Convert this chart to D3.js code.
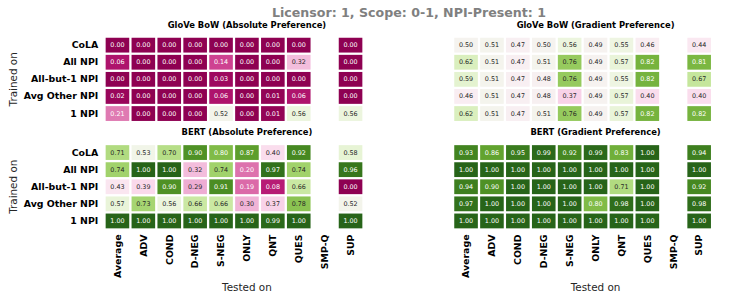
<!DOCTYPE html>
<html>
<head>
<meta charset="utf-8">
<script src="https://cdn.jsdelivr.net/npm/d3@7"></script>
<style>
    body { margin: 0; background: #fff; }
    text { font-family: "DejaVu Sans", sans-serif; }
</style>
</head>
<body>
<div id="graph"></div>
<script>
'use strict';

const suptitle = 'Licensor: 1, Scope: 0-1, NPI-Present: 1';
const trainedOn = ['CoLA', 'All NPI', 'All-but-1 NPI', 'Avg Other NPI', '1 NPI'];
const testedOn = ['Average', 'ADV', 'COND', 'D-NEG', 'S-NEG', 'ONLY', 'QNT', 'QUES', 'SMP-Q', 'SUP'];

// null = no value (SMP-Q is empty)
const gloveAbs = [
    [0.00, 0.00, 0.00, 0.00, 0.00, 0.00, 0.00, 0.00, null, 0.00],
    [0.06, 0.00, 0.00, 0.00, 0.14, 0.00, 0.00, 0.32, null, 0.00],
    [0.00, 0.00, 0.00, 0.00, 0.03, 0.00, 0.00, 0.00, null, 0.00],
    [0.02, 0.00, 0.00, 0.00, 0.06, 0.00, 0.01, 0.06, null, 0.00],
    [0.21, 0.00, 0.00, 0.00, 0.52, 0.00, 0.01, 0.56, null, 0.56]
];
const gloveGrad = [
    [0.50, 0.51, 0.47, 0.50, 0.56, 0.49, 0.55, 0.46, null, 0.44],
    [0.62, 0.51, 0.47, 0.51, 0.76, 0.49, 0.57, 0.82, null, 0.81],
    [0.59, 0.51, 0.47, 0.48, 0.76, 0.49, 0.55, 0.82, null, 0.67],
    [0.46, 0.51, 0.47, 0.48, 0.37, 0.49, 0.57, 0.40, null, 0.40],
    [0.62, 0.51, 0.47, 0.51, 0.76, 0.49, 0.57, 0.82, null, 0.82]
];
const bertAbs = [
    [0.71, 0.53, 0.70, 0.90, 0.80, 0.87, 0.40, 0.92, null, 0.58],
    [0.74, 1.00, 1.00, 0.32, 0.74, 0.20, 0.97, 0.74, null, 0.96],
    [0.43, 0.39, 0.90, 0.29, 0.91, 0.19, 0.08, 0.66, null, 0.00],
    [0.57, 0.73, 0.56, 0.66, 0.66, 0.30, 0.37, 0.78, null, 0.52],
    [1.00, 1.00, 1.00, 1.00, 1.00, 1.00, 0.99, 1.00, null, 1.00]
];
const bertGrad = [
    [0.93, 0.86, 0.95, 0.99, 0.92, 0.99, 0.83, 1.00, null, 0.94],
    [1.00, 1.00, 1.00, 1.00, 1.00, 1.00, 1.00, 1.00, null, 1.00],
    [0.94, 0.90, 1.00, 1.00, 1.00, 1.00, 0.71, 1.00, null, 0.92],
    [0.97, 1.00, 1.00, 1.00, 1.00, 0.80, 0.98, 1.00, null, 0.98],
    [1.00, 1.00, 1.00, 1.00, 1.00, 1.00, 1.00, 1.00, null, 1.00]
];

const panels = [
    { title: 'GloVe BoW (Absolute Preference)', values: gloveAbs, col: 0, row: 0 },
    { title: 'GloVe BoW (Gradient Preference)', values: gloveGrad, col: 1, row: 0 },
    { title: 'BERT (Absolute Preference)', values: bertAbs, col: 0, row: 1 },
    { title: 'BERT (Gradient Preference)', values: bertGrad, col: 1, row: 1 }
];

const measurements = {
    width: 748,
    height: 301,
    colStep: 25.9,
    rowStep: 17.1,
    gap: 2.3,
    left: [104.5, 453.1],
    top: [36.6, 144]
};

let svg = d3.select('#graph')
    .append('svg')
    .attr('width', measurements.width)
    .attr('height', measurements.height);

let color = d3.scaleSequential(d3.interpolatePiYG).domain([0, 1]);

// seaborn style: white text on dark cells, dark gray on light ones
function textColor(c) {
    let rgb = d3.rgb(c);
    let lin = [rgb.r, rgb.g, rgb.b].map((v) => {
        v = v / 255;
        return v <= 0.03928 ? v / 12.92 : Math.pow((v + 0.055) / 1.055, 2.4);
    });
    let lum = 0.2126 * lin[0] + 0.7152 * lin[1] + 0.0722 * lin[2];
    return lum > 0.408 ? '#262626' : '#ffffff';
}

svg.append('text')
    .attr('x', 409)
    .attr('y', 16.7)
    .attr('text-anchor', 'middle')
    .style('font-size', '12.6px')
    .style('font-weight', 'bold')
    .style('fill', '#808080')
    .text(suptitle);

panels.forEach(drawPanel);

function drawPanel(p) {
    let x0 = measurements.left[p.col];
    let y0 = measurements.top[p.row];

    let x = d3.scaleBand()
        .domain(testedOn)
        .range([x0, x0 + testedOn.length * measurements.colStep]);
    let y = d3.scaleBand()
        .domain(trainedOn)
        .range([y0, y0 + trainedOn.length * measurements.rowStep]);

    // axes are one column wider than the grid (empty slot on the right)
    let axisCenter = x0 + (testedOn.length + 1) * measurements.colStep / 2;

    let g = svg.append('g');

    let cells = [];
    p.values.forEach((row, i) => {
        row.forEach((v, j) => {
            if (v !== null) cells.push({ r: trainedOn[i], c: testedOn[j], v: v });
        });
    });

    let half = measurements.gap / 2;
    g.selectAll('rect')
        .data(cells)
        .enter()
        .append('rect')
        .attr('x', (d) => x(d.c) + half)
        .attr('y', (d) => y(d.r) + half)
        .attr('width', x.bandwidth() - measurements.gap)
        .attr('height', y.bandwidth() - measurements.gap)
        .style('fill', (d) => color(d.v));

    g.selectAll('.annot')
        .data(cells)
        .enter()
        .append('text')
        .attr('class', 'annot')
        .attr('x', (d) => x(d.c) + x.bandwidth() / 2)
        .attr('y', (d) => y(d.r) + y.bandwidth() / 2)
        .attr('text-anchor', 'middle')
        .attr('dominant-baseline', 'central')
        .style('font-size', '6.4px')
        .style('fill', (d) => textColor(color(d.v)))
        .text((d) => d.v.toFixed(2));

    // panel title
    svg.append('text')
        .attr('x', axisCenter)
        .attr('y', y0 - 9)
        .attr('text-anchor', 'middle')
        .style('font-size', '8.4px')
        .style('font-weight', 'bold')
        .style('fill', '#000')
        .text(p.title);

    // row labels + y title only on the left column
    if (p.col == 0) {
        let yAxis = d3.axisLeft(y).tickSize(0).tickPadding(7);
        let ya = svg.append('g')
            .attr('transform', 'translate(' + (x0 + 0.8) + ', 0)')
            .call(yAxis);
        ya.select('.domain').remove();
        ya.selectAll('text')
            .style('font-family', '"DejaVu Sans", sans-serif')
            .style('font-size', '9.4px')
            .style('font-weight', 'bold')
            .style('fill', '#000');

        svg.append('text')
            .attr('transform', 'translate(16.7, ' + (y0 + trainedOn.length * measurements.rowStep / 2) + ')rotate(-90)')
            .attr('text-anchor', 'middle')
            .style('font-size', '10.4px')
            .style('fill', '#262626')
            .text('Trained on');
    }

    // column labels + x title only on the bottom row
    if (p.row == 1) {
        let yEnd = y0 + trainedOn.length * measurements.rowStep;
        let xAxis = d3.axisBottom(x).tickSize(0).tickPadding(0);
        let xa = svg.append('g')
            .attr('transform', 'translate(0, ' + yEnd + ')')
            .call(xAxis);
        xa.select('.domain').remove();
        xa.selectAll('text')
            .attr('transform', 'rotate(-90)')
            .attr('x', -5)
            .attr('y', 0)
            .attr('dy', '0.35em')
            .attr('text-anchor', 'end')
            .style('font-family', '"DejaVu Sans", sans-serif')
            .style('font-size', '9.4px')
            .style('font-weight', 'bold')
            .style('fill', '#000');

        svg.append('text')
            .attr('x', axisCenter)
            .attr('y', 291)
            .attr('text-anchor', 'middle')
            .style('font-size', '10.4px')
            .style('fill', '#262626')
            .text('Tested on');
    }
}
</script>
</body>
</html>
